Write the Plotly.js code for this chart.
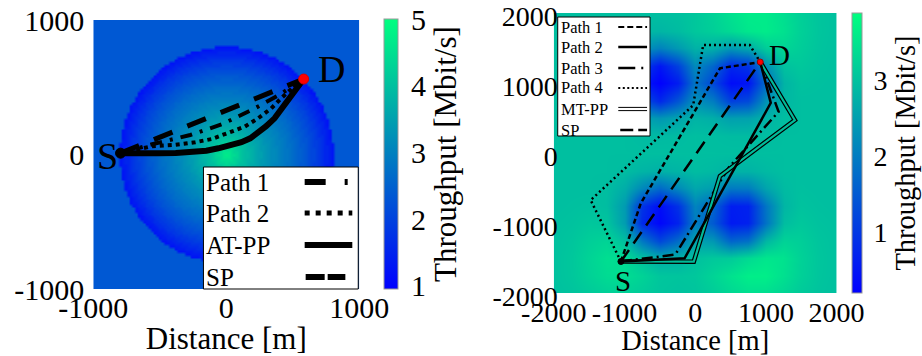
<!DOCTYPE html>
<html><head><meta charset="utf-8">
<script src="https://cdn.plot.ly/plotly-3.0.1.min.js"></script>
<style>html,body{margin:0;padding:0;background:#fff;}#chart{width:922px;height:356px;}</style>
</head><body><div id="chart"></div>
<script>
// ---------------- DATA ----------------
// Left panel: radial throughput profile of the disk (distance from centre [m] -> Mbit/s)
const leftRadius = [0,25,50,75,100,125,150,175,200,225,250,275,300,325,350,375,400,425,450,475,500,525,550,575,600,625,650,675,700,725,750,775,800];
const leftThroughput = [4.7,4.6,4.45,4.3,4.15,4.0,3.9,3.8,3.7,3.6,3.5,3.4,3.3,3.22,3.14,3.06,2.98,2.9,2.82,2.74,2.66,2.57,2.48,2.38,2.28,2.17,2.06,1.94,1.82,1.68,1.54,1.4,1.25];
const leftDiskEdge = 805;
const leftOutsideThroughput = 2.35;

const leftSource = [-795, 10];
const leftDest = [582, 561];
const leftPath1X = [-795,-557,-271,-35,201,388,582];
const leftPath1Y = [10,76,145,224,336,437,561];
const leftPath2X = [-795,-650,-557,-383,-234,-110,15,139,239,338,413,463,520,582];
const leftPath2Y = [10,45,62,72,91,115,158,207,269,343,418,467,515,561];
const leftATPPX = [-795,-650,-507,-380,-259,-150,-60,30,114,180,239,300,363,463,525,582];
const leftATPPY = [10,5,9,12,16,28,46,65,91,120,158,210,269,393,485,561];
const leftSPX = [-795,582];
const leftSPY = [10,561];
const leftLegendNames = ['Path 1','Path 2','AT-PP','SP'];
const leftTickVals = [-1000,0,1000];
const leftTickText = ['-1000','0','1000'];
const leftCbarTicks = [1,2,3,4,5];

// Right panel: throughput field on a 250 m grid (rows from y=-2000 upwards)
const rightGridX = [-2000,-1750,-1500,-1250,-1000,-750,-500,-250,0,250,500,750,1000,1250,1500,1750,2000];
const rightGridY = [-2000,-1750,-1500,-1250,-1000,-750,-500,-250,0,250,500,750,1000,1250,1500,1750,2000];
const rightThroughput = [
 [2.97,3.02,3.11,3.20,3.21,3.13,3.04,3.00,3.03,3.15,3.31,3.42,3.41,3.28,3.12,3.02,2.97],
 [2.99,3.07,3.22,3.36,3.38,3.25,3.06,3.04,3.07,3.25,3.46,3.63,3.64,3.44,3.21,3.05,2.98],
 [2.99,3.08,3.25,3.41,3.35,3.00,2.70,2.75,2.98,3.09,3.13,3.34,3.52,3.47,3.23,3.06,2.98],
 [2.98,3.05,3.18,3.26,2.97,1.96,1.23,1.77,2.57,2.40,1.66,1.83,2.84,3.24,3.18,3.04,2.98],
 [2.97,3.00,3.07,3.04,2.46,0.80,0.29,0.69,2.02,1.50,0.57,0.67,1.86,2.93,3.08,3.00,2.97],
 [2.95,2.97,2.99,2.93,2.44,0.96,0.38,0.91,2.11,1.67,0.62,0.68,1.90,2.82,3.01,2.97,2.95],
 [2.95,2.95,2.95,2.94,2.71,2.18,1.74,2.18,2.61,2.48,1.96,2.00,2.57,2.90,2.97,2.95,2.95],
 [2.95,2.95,2.95,2.95,2.92,2.81,2.75,2.81,2.92,2.88,2.78,2.78,2.88,2.95,2.95,2.95,2.95],
 [2.95,2.95,2.95,2.95,2.95,2.95,2.95,2.95,2.95,2.95,2.95,2.95,2.95,2.95,2.95,2.95,2.95],
 [2.95,2.95,2.95,2.95,2.95,2.91,2.89,2.91,2.95,2.94,2.91,2.91,2.94,2.95,2.95,2.95,2.95],
 [2.95,2.95,2.95,2.95,2.83,2.56,2.37,2.56,2.79,2.72,2.50,2.53,2.78,2.93,2.95,2.95,2.95],
 [2.95,2.95,2.95,2.90,2.52,1.43,0.78,1.43,2.32,2.01,1.12,1.26,2.32,2.85,2.95,2.95,2.95],
 [2.95,2.95,2.95,2.85,2.25,0.61,0.21,0.61,1.90,1.24,0.38,0.49,1.78,2.80,3.00,2.97,2.95],
 [2.95,2.95,2.95,2.88,2.43,1.13,0.51,1.13,2.20,1.67,0.76,0.93,2.24,2.99,3.08,3.00,2.96],
 [2.95,2.95,2.95,2.94,2.77,2.38,2.07,2.41,2.77,2.73,2.40,2.64,3.15,3.29,3.16,3.03,2.97],
 [2.95,2.95,2.95,2.95,2.94,2.87,2.82,2.91,3.07,3.18,3.35,3.53,3.60,3.45,3.21,3.05,2.98],
 [2.95,2.95,2.95,2.95,2.95,2.95,2.95,2.98,3.07,3.23,3.45,3.61,3.59,3.41,3.19,3.04,2.98]
];

const rightSource = [-1050, -1550];
const rightDest = [920, 1300];
const rightPath1X = [-1050,-770,350,920];
const rightPath1Y = [-1550,-720,1210,1300];
const rightPath2X = [-1050,-150,1069,920];
const rightPath2Y = [-1550,-1505,715,1300];
const rightPath3X = [-1050,-280,480,1180,920];
const rightPath3Y = [-1550,-1450,-200,590,1300];
const rightPath4X = [-1050,-1478,-28,113,772,840,920];
const rightPath4Y = [-1550,-673,683,1543,1543,1440,1300];
const rightMTPPX = [-1050,-20,350,1410,920];
const rightMTPPY = [-1550,-1553,-330,470,1300];
const rightSPX = [-1050,920];
const rightSPY = [-1550,1300];
const rightLegendNames = ['Path 1','Path 2','Path 3','Path 4','MT-PP','SP'];
const rightTickVals = [-2000,-1000,0,1000,2000];
const rightTickText = ['-2000','-1000','0','1000','2000'];
const rightCbarTicks = [1,2,3];

// ---------------- BUILD ----------------
const W = 922, H = 356;
const X = px => px / W;
const Y = py => 1 - py / H;
const FONT = 'Liberation Serif';
const winter = [[0,'rgb(0,0,255)'],[1,'rgb(0,255,128)']];

// left field table built from the radial profile (nearest profile sample)
const leftGridX = [];
for (let v = -1000; v <= 1000; v += 20) leftGridX.push(v);
const leftGridY = leftGridX.slice();
const leftZ = leftGridY.map(yy => leftGridX.map(xx => {
  const r = Math.hypot(xx, yy);
  if (r > leftDiskEdge) return leftOutsideThroughput;
  let best = 0;
  for (let i = 1; i < leftRadius.length; i++)
    if (Math.abs(leftRadius[i] - r) < Math.abs(leftRadius[best] - r)) best = i;
  return leftThroughput[best];
}));

function path(x, y, xa, ya, width, dash, color) {
  return {type:'scatter', mode:'lines', x:x, y:y, xaxis:xa, yaxis:ya,
    line:{color:color || 'black', width:width, dash:dash || 'solid'}, hoverinfo:'skip', showlegend:false};
}
function pt(p, xa, ya, color, size, lineColor) {
  return {type:'scatter', mode:'markers', x:[p[0]], y:[p[1]], xaxis:xa, yaxis:ya,
    marker:{color:color, size:size, line:{color:lineColor || color, width:1}}, hoverinfo:'skip', showlegend:false};
}

const traces = [
  {type:'heatmap', x:leftGridX, y:leftGridY, z:leftZ, xaxis:'x', yaxis:'y',
   colorscale:winter, zmin:0.95, zmax:5, zsmooth:'best', hoverinfo:'skip',
   colorbar:{x:X(387), xanchor:'left', y:Y(289), yanchor:'bottom', len:270/H, lenmode:'fraction',
     thickness:14, thicknessmode:'pixels', outlinewidth:1, outlinecolor:'#999', xpad:0, ypad:0,
     tickvals:leftCbarTicks, ticks:'outside', ticklen:7, tickcolor:'rgba(0,0,0,0)',
     ticksuffix:'\u00a0\u00a0', tickfont:{family:FONT, size:30, color:'black'},
     title:{text:'Throughput [Mbit/s]', side:'right', font:{family:FONT, size:31, color:'black'}}}},
  {type:'heatmap', x:rightGridX, y:rightGridY, z:rightThroughput, xaxis:'x2', yaxis:'y2',
   colorscale:winter, zmin:0.2, zmax:3.88, zsmooth:'best', hoverinfo:'skip',
   colorbar:{x:X(859), xanchor:'left', y:Y(293), yanchor:'bottom', len:280/H, lenmode:'fraction',
     thickness:10, thicknessmode:'pixels', outlinewidth:1, outlinecolor:'#999', xpad:0, ypad:0,
     tickvals:rightCbarTicks, ticks:'outside', ticklen:6, tickcolor:'rgba(0,0,0,0)',
     tickfont:{family:FONT, size:28, color:'black'},
     title:{text:'Throughput [Mbit/s]', side:'right', font:{family:FONT, size:28.5, color:'black'}}}},
  // left paths
  path(leftSPX, leftSPY, 'x', 'y', 5, '20px,16px'),
  path(leftPath1X, leftPath1Y, 'x', 'y', 4, '12px,8px,3px,8px'),
  path(leftPath2X, leftPath2Y, 'x', 'y', 4, '4px,4px'),
  path(leftATPPX, leftATPPY, 'x', 'y', 6, 'solid'),
  pt(leftSource, 'x', 'y', 'black', 10),
  pt(leftDest, 'x', 'y', 'red', 10, '#d00'),
  // right paths
  path(rightPath4X, rightPath4Y, 'x2', 'y2', 2.5, '2px,3px'),
  path(rightPath1X, rightPath1Y, 'x2', 'y2', 2.5, '5px,3px'),
  path(rightSPX, rightSPY, 'x2', 'y2', 2.5, '14px,8px'),
  path(rightPath3X, rightPath3Y, 'x2', 'y2', 2.5, '11px,4px,2px,4px'),
  path(rightMTPPX, rightMTPPY, 'x2', 'y2', 4.6, 'solid'),
  path(rightMTPPX, rightMTPPY, 'x2', 'y2', 2.2, 'solid', 'rgb(0,186,152)'),
  path(rightPath2X, rightPath2Y, 'x2', 'y2', 2.5, 'solid'),
  pt(rightSource, 'x2', 'y2', 'black', 6),
  pt(rightDest, 'x2', 'y2', 'red', 6, '#900')
];

// manual legends (text first, line sample after, as in the original)
const shapes = [];
const annotations = [];
function legendBox(x0, y0, x1, y1) {
  shapes.push({type:'rect', xref:'paper', yref:'paper', x0:X(x0), x1:X(x1), y0:Y(y1), y1:Y(y0),
    fillcolor:'white', line:{color:'black', width:1}, layer:'above'});
}
function sample(x0, x1, py, width, dash) {
  shapes.push({type:'line', xref:'paper', yref:'paper', x0:X(x0), x1:X(x1), y0:Y(py), y1:Y(py),
    line:{color:'black', width:width, dash:dash}, layer:'above'});
}
function label(text, px, py, size) {
  annotations.push({xref:'paper', yref:'paper', x:X(px), y:Y(py), xanchor:'left', yanchor:'middle',
    text:text, showarrow:false, font:{family:FONT, size:size, color:'black'}, borderpad:0});
}
// left legend
legendBox(205, 167, 361, 289);
const leftRows = [182, 213, 245, 277];
leftLegendNames.forEach((n, i) => label(n, 207, leftRows[i], 25));
sample(307, 355, leftRows[0], 6, '21px,19px,3px,20px');
sample(307, 355, leftRows[1], 5, '5px,6px');
sample(307, 355, leftRows[2], 6, 'solid');
sample(308, 348, leftRows[3], 6, '19px,3px');
// right legend
legendBox(562, 17, 655, 136);
const rightRows = [27, 47, 68, 88, 109, 130];
rightLegendNames.forEach((n, i) => label(n, 564, rightRows[i], 16.5));
sample(623, 652, rightRows[0], 2.2, '6px,3px');
sample(623, 652, rightRows[1], 2.5, 'solid');
sample(623, 652, rightRows[2], 2.5, '17px,6px,2px,6px');
sample(623, 652, rightRows[3], 2.2, '2px,2.5px');
sample(623, 652, rightRows[4] - 1.6, 1, 'solid');
sample(623, 652, rightRows[4] + 1.6, 1, 'solid');
sample(625, 652, rightRows[5], 2.5, '13px,5px');

// S / D point labels, anchored on the points
function ptLabel(text, p, xa, ya, size, xanchor, yanchor, dx, dy) {
  annotations.push({xref:xa, yref:ya, x:p[0], y:p[1], text:text, showarrow:false,
    xanchor:xanchor, yanchor:yanchor, xshift:dx, yshift:dy, borderpad:0,
    font:{family:FONT, size:size, color:'black'}});
}
ptLabel('S', leftSource, 'x', 'y', 38, 'right', 'middle', -2, -3);
ptLabel('D', leftDest, 'x', 'y', 38, 'left', 'middle', 13, 10);
ptLabel('S', rightSource, 'x2', 'y2', 29, 'center', 'top', 2, -2);
ptLabel('D', rightDest, 'x2', 'y2', 29, 'left', 'middle', 8, 7);

const axFont = {family:FONT, size:30, color:'black'};
const axFont2 = {family:FONT, size:28, color:'black'};
const common = {showgrid:false, zeroline:false, showline:false, fixedrange:true, automargin:false,
  ticks:'', ticklabeloverflow:'allow'};

const layout = {
  width:W, height:H, margin:{l:0, r:0, t:0, b:0}, paper_bgcolor:'white', plot_bgcolor:'white',
  showlegend:false,
  xaxis:Object.assign({}, common, {domain:[X(94), X(362)], range:[-1000,1000], anchor:'y',
    tickvals:leftTickVals, ticktext:leftTickText, tickfont:axFont, ticklabelstandoff:-2,
    title:{text:'Distance [m]', font:{family:FONT, size:31, color:'black'}, standoff:1}}),
  yaxis:Object.assign({}, common, {domain:[Y(289), Y(20)], range:[-1000,1000], anchor:'x',
    tickvals:leftTickVals, ticktext:leftTickText, tickfont:axFont, ticklabelstandoff:8}),
  xaxis2:Object.assign({}, common, {domain:[X(558), X(843)], range:[-2000,2000], anchor:'y2',
    tickvals:rightTickVals, ticktext:rightTickText, tickfont:axFont2, ticklabelstandoff:0,
    title:{text:'Distance [m]', font:{family:FONT, size:28.5, color:'black'}, standoff:0}}),
  yaxis2:Object.assign({}, common, {domain:[Y(293), Y(13)], range:[-2000,2000], anchor:'x2',
    tickvals:rightTickVals, ticktext:rightTickText, tickfont:axFont2, ticklabelstandoff:-5,
    ticklabelshift:3}),
  shapes:shapes, annotations:annotations
};

Plotly.newPlot('chart', traces, layout, {staticPlot:true, displayModeBar:false});
</script></body></html>
